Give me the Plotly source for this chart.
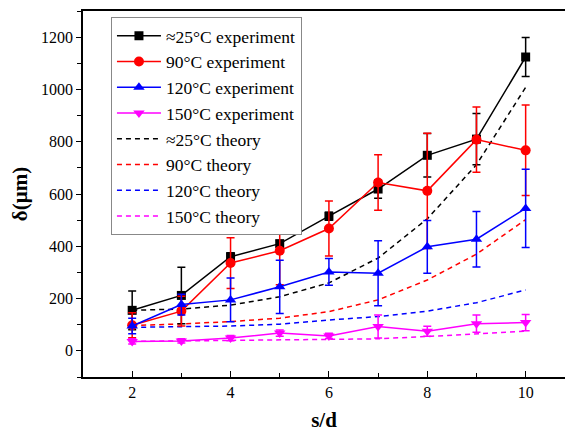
import plotly.graph_objects as go

# s/d ratios
sd = [2, 3, 4, 5, 6, 7, 8, 9, 10]

# measured delta (um) with symmetric error
exp_25 = [155, 212, 360, 410, 515, 619, 748, 810, 1124]
err_25 = [74, 108, 15, 12, 15, 35, 83, 98, 75]
exp_90 = [98, 152, 336, 383, 468, 644, 612, 808, 767]
err_90 = [48, 57, 97, 130, 105, 106, 220, 125, 173]
exp_120 = [95, 177, 195, 245, 302, 297, 398, 427, 545]
err_120 = [30, 40, 84, 102, 51, 124, 101, 106, 150]
exp_150 = [36, 38, 49, 68, 57, 93, 75, 104, 108]
err_150 = [10, 8, 10, 12, 10, 44, 19, 33, 31]

# predicted delta (um)
th_25 = [155, 160, 175, 207, 260, 355, 505, 712, 1008]
th_90 = [97, 103, 112, 125, 150, 195, 271, 370, 502]
th_120 = [90, 93, 95, 102, 118, 131, 152, 184, 233]
th_150 = [36, 38, 40, 41, 43, 46, 55, 65, 75]

exp_names = ["≈25°C experiment", "90°C experiment", "120°C experiment", "150°C experiment"]
th_names = ["≈25°C theory", "90°C theory", "120°C theory", "150°C theory"]
colors = ["#000000", "#FF0000", "#0000FF", "#FF00FF"]
symbols = ["square", "circle", "triangle-up", "triangle-down"]
msizes = [9, 10, 10, 10]

fig = go.Figure()

# theory curves drawn underneath
for i, (name, ys) in enumerate(zip(th_names, [th_25, th_90, th_120, th_150])):
    fig.add_trace(go.Scatter(
        x=sd, y=ys, name=name, mode="lines", legendrank=10 + i,
        line=dict(color=colors[i], width=1.5, dash="5px,4px"),
    ))

for i, (name, ys, es) in enumerate(zip(exp_names, [exp_25, exp_90, exp_120, exp_150],
                                       [err_25, err_90, err_120, err_150])):
    fig.add_trace(go.Scatter(
        x=sd, y=ys, name=name, mode="lines+markers", legendrank=i + 1,
        line=dict(color=colors[i], width=1.5),
        marker=dict(symbol=symbols[i], size=msizes[i], color=colors[i]),
        error_y=dict(type="data", array=es, visible=True, color=colors[i],
                     thickness=1.5, width=4),
    ))

serif = "Liberation Serif"

fig.update_layout(
    width=565, height=434,
    margin=dict(l=83, r=0, t=11, b=57),
    paper_bgcolor="white", plot_bgcolor="white",
    font=dict(family=serif, size=16, color="black"),
    showlegend=True,
    legend=dict(
        x=0.058, y=0.984, xanchor="left", yanchor="top",
        bordercolor="#888888", borderwidth=1, bgcolor="white",
        font=dict(family=serif, size=17.5, color="black"),
        itemwidth=44, tracegroupgap=0,
    ),
    xaxis=dict(
        range=[1, 10.8], dtick=2, tick0=0,
        showgrid=False, zeroline=False,
        showline=True, linecolor="black", linewidth=1.5, mirror=True,
        ticks="inside", ticklen=6, tickwidth=1.2, tickcolor="black",
        minor=dict(dtick=1, ticks="inside", ticklen=4, tickwidth=1.2, tickcolor="black"),
        tickfont=dict(family=serif, size=16),
        title=dict(text="<b>s/d</b>", font=dict(family=serif, size=21), standoff=12),
    ),
    yaxis=dict(
        range=[-100, 1300], dtick=200, tick0=0,
        showgrid=False, zeroline=False,
        showline=True, linecolor="black", linewidth=1.5,
        ticks="outside", ticklen=5, tickwidth=1.2, tickcolor="black",
        minor=dict(dtick=100, ticks="outside", ticklen=4, tickwidth=1.2, tickcolor="black"),
        tickfont=dict(family=serif, size=16),
        title=dict(text="<b>δ(μm)</b>", font=dict(family=serif, size=21), standoff=8),
    ),
)

fig.write_html("out.html")
